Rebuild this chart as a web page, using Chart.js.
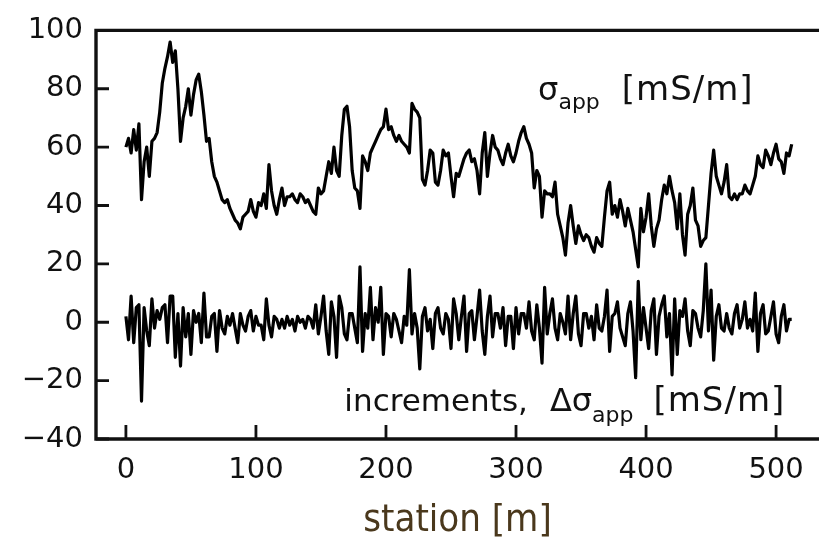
<!DOCTYPE html>
<html>
<head>
<meta charset="utf-8">
<script src="https://cdn.jsdelivr.net/npm/chart.js@4.4.1/dist/chart.umd.min.js"></script>
<style>
  html, body { margin: 0; padding: 0; background: #fff; overflow: hidden; }
  #wrap { width: 819px; height: 544px; position: relative; }
</style>
</head>
<body>
<div id="wrap"><canvas id="c" width="819" height="544"></canvas></div>
<script>
// Survey line: apparent conductivity every 2 m along the profile
const STEP = 2;
const sigmaApp = [
  60,63,58,66,59,68,42,55,60,50,
  62,63,65,72,82,87,91,96,89,93,
  80,62,70,74,80,71,78,83,85,79,
  71,62,63,55,50,48,45,42,41,42,
  39,37,35,34,32,36,37,38,42,38,
  36,41,40,44,39,54,45,40,37,42,
  46,40,43,43,44,42,41,44,43,41,
  42,40,38,37,46,44,45,50,55,51,
  60,52,50,64,73,74,67,52,46,45,
  39,57,55,52,58,60,62,64,66,67,
  73,66,67,64,62,64,62,61,60,58,
  75,73,72,70,49,47,52,59,58,48,
  47,52,59,57,58,50,43,51,50,53,
  56,58,59,55,56,52,44,58,65,50,
  58,64,60,59,56,54,58,61,57,55,
  58,62,65,67,63,61,58,46,52,50,
  36,45,44,44,43,48,37,33,29,23,
  34,40,33,27,33,30,28,30,29,26,
  24,29,27,26,36,45,48,37,40,36,
  42,38,33,39,35,31,25,19,39,31,
  36,44,33,26,32,35,42,47,44,50,
  45,41,32,44,30,23,37,40,46,35,
  33,26,28,29,40,51,59,50,47,44,
  48,54,43,42,44,42,44,44,47,45,
  44,47,50,57,54,53,59,57,54,58,
  61,56,55,51,58,57,61
];
// Increments of the apparent conductivity, same stations
const increments = [
  2,-6,9,-7,5,6,-27,5,-3,-8,
  8,-2,4,1,5,6,-7,9,9,-12,
  3,-15,5,-5,3,-11,4,0,3,-7,
  10,-5,-5,2,3,-10,4,-2,-4,2,
  -1,3,-2,-7,3,-1,-3,2,4,-3,
  2,-1,-1,-6,8,-1,-5,2,1,-2,
  1,-2,2,-1,1,-3,2,0,1,-2,
  2,1,-2,6,-4,2,9,-3,-11,7,
  2,-12,9,5,-4,-6,3,3,-2,-7,
  19,-10,3,-2,12,-6,5,0,12,-11,
  3,2,-5,3,1,-3,-7,2,-1,18,
  -4,3,-2,-16,2,5,-3,1,-9,3,
  5,-2,-4,3,1,-9,8,3,-6,2,
  9,-10,3,4,-6,2,11,-3,-11,2,
  9,-5,3,3,-2,5,-8,2,2,-9,
  5,-4,3,3,-2,7,-3,-6,6,-2,
  -14,12,-4,3,8,-2,-6,3,0,-4,
  9,-6,3,9,-4,-8,3,3,-2,2,
  -6,6,-2,-3,2,11,-10,2,3,7,
  -2,-5,-8,3,7,-3,-19,14,-6,5,
  -2,-9,4,8,-11,2,6,9,-5,3,
  -18,8,-11,4,2,8,-3,-8,4,3,
  -2,-5,4,20,-3,11,-13,2,6,-2,
  -3,3,-2,-4,3,6,-2,1,7,-2,
  1,-3,10,-10,3,6,-4,-3,2,7,
  -4,-7,2,6,-3,1,1
];
const stations = sigmaApp.map((_, i) => i * STEP);

const xTickValues = [0, 100, 200, 300, 400, 500];
const yTickValues = [-40, -20, 0, 20, 40, 60, 80, 100];

const TICK_FONT = '"DejaVu Sans", sans-serif';
const minus = v => (v < 0 ? '\u2212' + Math.abs(v) : String(v));

// Frame lines and inward tick marks
const framePlugin = {
  id: 'frame',
  afterDatasetsDraw(chart) {
    const { ctx, chartArea: a, scales: { x, y } } = chart;
    ctx.save();
    ctx.strokeStyle = '#111';
    ctx.lineWidth = 3.4;
    ctx.lineCap = 'butt';
    ctx.beginPath();
    ctx.moveTo(a.right + 2, a.top);
    ctx.lineTo(a.left, a.top);
    ctx.lineTo(a.left, a.bottom);
    ctx.lineTo(a.right + 2, a.bottom);
    ctx.stroke();
    ctx.lineWidth = 2.8;
    ctx.beginPath();
    xTickValues.forEach(v => {
      const px = x.getPixelForValue(v);
      ctx.moveTo(px, a.bottom);
      ctx.lineTo(px, a.bottom - 14);
    });
    yTickValues.forEach(v => {
      const py = y.getPixelForValue(v);
      ctx.moveTo(a.left, py);
      ctx.lineTo(a.left + 13, py);
    });
    ctx.stroke();
    ctx.restore();
  }
};

// Curve captions with subscripts
const captions = [
  { at: [317, 76.2], parts: [
    { t: '\u03c3', size: 32 },
    { t: 'app', size: 22, dy: 9, gap: 0 },
    { t: '[mS/m]', size: 34, gap: 22, spacing: 1 }
  ] },
  { at: [168, -30.3], parts: [
    { t: 'increments,', size: 31 },
    { t: '\u0394\u03c3', size: 32, gap: 22 },
    { t: 'app', size: 22, dy: 11, gap: 0 },
    { t: '[mS/m]', size: 34, gap: 20, spacing: 1 }
  ] }
];
const captionPlugin = {
  id: 'captions',
  afterDraw(chart) {
    const { ctx, scales: { x, y } } = chart;
    ctx.save();
    ctx.fillStyle = '#111';
    ctx.textBaseline = 'alphabetic';
    ctx.textAlign = 'left';
    captions.forEach(c => {
      let px = x.getPixelForValue(c.at[0]);
      const py = y.getPixelForValue(c.at[1]);
      c.parts.forEach(p => {
        px += p.gap || 0;
        ctx.font = p.size + 'px ' + TICK_FONT;
        ctx.letterSpacing = (p.spacing || 0) + 'px';
        ctx.fillText(p.t, px, py + (p.dy || 0));
        px += ctx.measureText(p.t).width;
      });
    });
    ctx.restore();
  }
};

new Chart(document.getElementById('c'), {
  type: 'line',
  data: {
    datasets: [
      {
        label: 'sigma_app',
        data: stations.map((s, i) => ({ x: s, y: sigmaApp[i] })),
        borderColor: '#000',
        borderWidth: 3.2,
        pointRadius: 0,
        tension: 0,
        borderJoinStyle: 'round'
      },
      {
        label: 'increments',
        data: stations.map((s, i) => ({ x: s, y: increments[i] })),
        borderColor: '#000',
        borderWidth: 3.2,
        pointRadius: 0,
        tension: 0,
        borderJoinStyle: 'round'
      }
    ]
  },
  options: {
    responsive: false,
    animation: false,
    devicePixelRatio: 1,
    layout: { padding: { left: 0, right: 0, top: 21, bottom: 0 } },
    plugins: { legend: { display: false }, tooltip: { enabled: false } },
    scales: {
      x: {
        type: 'linear',
        min: -23,
        max: 533,
        afterFit: s => { s.height = 105; },
        afterBuildTicks: s => { s.ticks = xTickValues.map(v => ({ value: v })); },
        grid: { display: false, drawTicks: false },
        border: { display: false },
        ticks: {
          padding: 14,
          color: '#111',
          font: { family: TICK_FONT, size: 29 },
          maxRotation: 0,
          autoSkip: false,
          callback: v => minus(v)
        },
        title: {
          display: true,
          text: 'station [m]',
          color: '#4a381c',
          font: { family: '"DejaVu Sans Condensed", "DejaVu Sans", sans-serif', size: 38 },
          padding: { top: 0, bottom: 0 }
        }
      },
      y: {
        type: 'linear',
        min: -40,
        max: 100,
        afterFit: s => { s.width = 96; },
        afterBuildTicks: s => { s.ticks = yTickValues.map(v => ({ value: v })); },
        grid: { display: false, drawTicks: false },
        border: { display: false },
        ticks: {
          padding: 13,
          color: '#111',
          font: { family: TICK_FONT, size: 29 },
          callback: v => minus(v)
        }
      }
    }
  },
  plugins: [framePlugin, captionPlugin]
});
</script>
</body>
</html>
